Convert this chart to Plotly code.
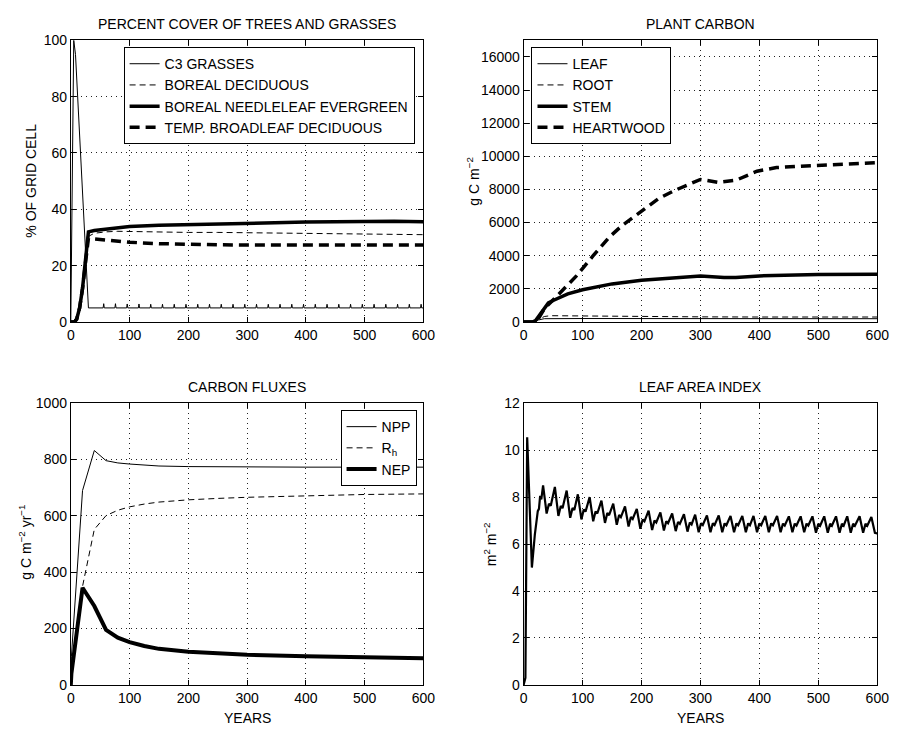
import plotly.graph_objects as go

W, H = 904, 734
FONT = "Liberation Sans, Arial, Helvetica, sans-serif"

# ---------------- Percent cover of trees and grasses ----------------
GRASS_YEARS = [0, 5, 8, 30,
               55, 56, 57, 75, 76, 77, 95, 96, 97, 115, 116, 117,
               135, 136, 137, 155, 156, 157, 175, 176, 177, 195, 196, 197,
               215, 216, 217, 235, 236, 237, 255, 256, 257, 275, 276, 277,
               295, 296, 297, 315, 316, 317, 335, 336, 337, 355, 356, 357,
               375, 376, 377, 395, 396, 397, 415, 416, 417, 435, 436, 437,
               455, 456, 457, 475, 476, 477, 495, 496, 497, 515, 516, 517,
               535, 536, 537, 555, 556, 557, 575, 576, 577, 595, 596, 597, 600]
GRASS_PCT = [0, 100, 95, 5,
             5, 6.5, 5, 5, 6.5, 5, 5, 6.4, 5, 5, 6.4, 5,
             5, 6.3, 5, 5, 6.3, 5, 5, 6.3, 5, 5, 6.3, 5,
             5, 6.3, 5, 5, 6.3, 5, 5, 6.3, 5, 5, 6.3, 5,
             5, 6.3, 5, 5, 6.3, 5, 5, 6.3, 5, 5, 6.3, 5,
             5, 6.3, 5, 5, 6.3, 5, 5, 6.3, 5, 5, 6.3, 5,
             5, 6.3, 5, 5, 6.3, 5, 5, 6.3, 5, 5, 6.3, 5,
             5, 6.3, 5, 5, 6.3, 5, 5, 6.3, 5, 5, 6.3, 5, 5]

TREE_YEARS = [0, 6, 10, 15, 20, 25, 30, 40, 60, 80, 100, 150, 200, 250,
              300, 350, 400, 450, 500, 550, 600]
BOREAL_DECID = [0, 0, 1, 5, 12, 21, 30.4, 31.5, 32.0, 32.2, 32.1, 32.0, 31.8,
                31.8, 31.7, 31.6, 31.5, 31.3, 31.2, 31.1, 31.0]
BOREAL_NEEDLE = [0, 0, 1, 5, 12, 21, 32.0, 32.5, 33.0, 33.4, 33.9, 34.3, 34.6,
                 34.8, 35.0, 35.2, 35.5, 35.6, 35.8, 35.8, 35.6]
TEMP_BROADLEAF = [0, 0, 1, 5, 12, 21, 29.8, 29.5, 29.0, 28.6, 28.3, 27.8, 27.5,
                  27.4, 27.3, 27.3, 27.3, 27.3, 27.3, 27.3, 27.3]

# ---------------- Plant carbon ----------------
LEAF_YEARS = [0, 18, 25, 35, 100, 300, 600]
LEAF_C = [0, 0, 120, 200, 210, 200, 200]
ROOT_YEARS = [0, 18, 25, 35, 45, 100, 200, 300, 400, 600]
ROOT_C = [0, 0, 150, 330, 380, 360, 330, 310, 300, 300]
STEM_YEARS = [0, 15, 20, 30, 42, 50, 60, 75, 100, 150, 200, 250, 300, 340,
              360, 400, 500, 600]
STEM_C = [0, 0, 80, 600, 1150, 1300, 1480, 1700, 1950, 2300, 2520, 2650, 2780,
          2680, 2680, 2780, 2860, 2880]
HEART_YEARS = [0, 18, 25, 35, 52, 68, 90, 118, 146, 168, 201, 229, 257, 280,
               300, 330, 360, 396, 429, 479, 534, 600]
HEART_C = [0, 0, 200, 800, 1400, 2000, 2800, 4000, 5150, 5850, 6750, 7450,
           7950, 8300, 8600, 8430, 8550, 9100, 9320, 9420, 9520, 9620]

# ---------------- Carbon fluxes ----------------
FLUX_YEARS = [0, 1, 20, 40, 60, 80, 100, 125, 150, 200, 250, 300, 400, 500, 600]
NPP = [0, 100, 690, 832, 796, 788, 784, 780, 777, 775, 774, 773, 773, 773, 773]
RH = [0, 60, 350, 552, 601, 620, 632, 642, 649, 657, 662, 666, 671, 676, 678]
NEP = [0, 40, 345, 280, 195, 168, 152, 138, 128, 118, 112, 107, 102, 97, 95]

# ---------------- Leaf area index ----------------
LAI = [
    (0, 0.0), (3, 0.3), (6, 10.55), (14, 5.0), (19, 6.4), (24, 7.4),
    (26, 7.5), (28, 8.05), (30, 7.9), (33, 8.5),
    (39, 7.30), (43, 7.72), (46, 7.63), (53, 8.43),
    (59, 7.20), (63, 7.62), (66, 7.53), (73, 8.28),
    (79, 7.12), (83, 7.54), (86, 7.45), (92, 8.12),
    (98, 7.05), (102, 7.47), (105, 7.38), (112, 8.00),
    (118, 6.97), (122, 7.39), (125, 7.30), (132, 7.85),
    (138, 6.90), (142, 7.32), (145, 7.23), (152, 7.72),
    (158, 6.82), (162, 7.24), (165, 7.15), (172, 7.60),
    (178, 6.75), (182, 7.15), (185, 7.07), (192, 7.50),
    (198, 6.65), (202, 7.05), (205, 6.97), (212, 7.42),
    (218, 6.60), (222, 7.00), (225, 6.92), (232, 7.35),
    (238, 6.58), (242, 6.97), (245, 6.89), (252, 7.30),
    (258, 6.55), (262, 6.94), (265, 6.86), (272, 7.27),
    (278, 6.53), (282, 6.92), (285, 6.84), (291, 7.25),
    (297, 6.50), (301, 6.89), (304, 6.81), (311, 7.22),
    (317, 6.50), (321, 6.89), (324, 6.81), (331, 7.22),
    (337, 6.50), (341, 6.88), (344, 6.80), (351, 7.20),
    (357, 6.50), (361, 6.88), (364, 6.80), (371, 7.20),
    (377, 6.50), (381, 6.88), (384, 6.80), (390, 7.20),
    (396, 6.50), (400, 6.88), (403, 6.80), (410, 7.20),
    (416, 6.50), (420, 6.88), (423, 6.80), (430, 7.20),
    (436, 6.50), (440, 6.87), (443, 6.79), (450, 7.18),
    (456, 6.50), (460, 6.87), (463, 6.79), (470, 7.18),
    (476, 6.50), (480, 6.87), (483, 6.79), (490, 7.18),
    (496, 6.48), (500, 6.86), (503, 6.78), (510, 7.18),
    (516, 6.48), (520, 6.86), (523, 6.78), (530, 7.18),
    (536, 6.48), (540, 6.86), (543, 6.78), (549, 7.18),
    (555, 6.48), (559, 6.86), (562, 6.78), (570, 7.18),
    (576, 6.48), (580, 6.86), (583, 6.78), (590, 7.15),
    (596, 6.48), (600, 6.45),
]
LAI_YEARS = [p[0] for p in LAI]
LAI_VALUES = [p[1] for p in LAI]

X_TICKS = [0, 100, 200, 300, 400, 500, 600]

THIN_DASH = "6px,4px"
THICK_DASH = "10px,6px"

fig = go.Figure()


def add_line(x, y, name, width, dash, xa, ya, legend=None):
    fig.add_trace(go.Scatter(
        x=x, y=y, name=name, mode="lines",
        line=dict(color="black", width=width, dash=dash),
        xaxis=xa, yaxis=ya,
        showlegend=legend is not None,
        legend=legend if legend else "legend",
    ))


# panel 1
add_line(GRASS_YEARS, GRASS_PCT, "C3 GRASSES", 1, "solid", "x", "y", "legend")
add_line(TREE_YEARS, BOREAL_DECID, "BOREAL DECIDUOUS", 1, THIN_DASH, "x", "y", "legend")
add_line(TREE_YEARS, BOREAL_NEEDLE, "BOREAL NEEDLELEAF EVERGREEN", 3.5, "solid", "x", "y", "legend")
add_line(TREE_YEARS, TEMP_BROADLEAF, "TEMP. BROADLEAF DECIDUOUS", 3.5, THICK_DASH, "x", "y", "legend")

# panel 2
add_line(LEAF_YEARS, LEAF_C, "LEAF", 1, "solid", "x2", "y2", "legend2")
add_line(ROOT_YEARS, ROOT_C, "ROOT", 1, THIN_DASH, "x2", "y2", "legend2")
add_line(STEM_YEARS, STEM_C, "STEM", 3.5, "solid", "x2", "y2", "legend2")
add_line(HEART_YEARS, HEART_C, "HEARTWOOD", 3.5, THICK_DASH, "x2", "y2", "legend2")

# panel 3
add_line(FLUX_YEARS, NPP, "NPP", 1, "solid", "x3", "y3", "legend3")
add_line(FLUX_YEARS, RH, "R<sub>h</sub>", 1, THIN_DASH, "x3", "y3", "legend3")
add_line(FLUX_YEARS, NEP, "NEP", 4, "solid", "x3", "y3", "legend3")

# panel 4
add_line(LAI_YEARS, LAI_VALUES, "LAI", 2.2, "solid", "x4", "y4", None)


def px_x(p):
    return p / W


def px_y(p):
    return 1 - p / H


LEFT = [68, 529]
RIGHT = [427, 889]
TOP = [33, 404]
BOTTOM = [321, 692]

axis_style = dict(
    showline=True, linecolor="black", linewidth=1, mirror="ticks",
    ticks="inside", ticklen=5, tickcolor="black", tickwidth=1,
    showgrid=True, gridcolor="#222", gridwidth=1, griddash="1px,4px",
    zeroline=False, tickfont=dict(size=14, color="black", family=FONT),
    fixedrange=True,
)

panels = [
    ("xaxis", "yaxis", "y", "x", 0, 0, [0, 100], 20, None),
    ("xaxis2", "yaxis2", "y2", "x2", 1, 0, [0, 17000], 2000, "d"),
    ("xaxis3", "yaxis3", "y3", "x3", 0, 1, [0, 1000], 200, None),
    ("xaxis4", "yaxis4", "y4", "x4", 1, 1, [0, 12], 2, None),
]
layout = {}
for xa, ya, yref, xref, col, row, yrange, dtick, fmt in panels:
    layout[xa] = dict(axis_style, domain=[px_x(LEFT[col]), px_x(RIGHT[col])],
                      range=[0, 600], tickvals=X_TICKS, anchor=yref)
    ydict = dict(axis_style, domain=[px_y(BOTTOM[row]), px_y(TOP[row])],
                 range=yrange, dtick=dtick, tick0=0, anchor=xref)
    if fmt:
        ydict["tickformat"] = fmt
    layout[ya] = ydict

legend_style = dict(
    bordercolor="black", borderwidth=1, bgcolor="white",
    font=dict(size=14, color="black", family=FONT),
    itemwidth=30, tracegroupgap=0, yanchor="top",
)

fig.update_layout(
    width=W, height=H,
    margin=dict(l=0, r=0, t=0, b=0),
    paper_bgcolor="white", plot_bgcolor="white",
    font=dict(family=FONT, color="black", size=14),
    legend=dict(legend_style, x=px_x(418), xanchor="right", y=px_y(40)),
    legend2=dict(legend_style, x=px_x(537), xanchor="left", y=px_y(40)),
    legend3=dict(legend_style, x=px_x(420), xanchor="right", y=px_y(411)),
    **layout,
)

annotations = []
titles = [
    ("PERCENT COVER OF TREES AND GRASSES", 0, 0),
    ("PLANT CARBON", 1, 0),
    ("CARBON FLUXES", 0, 1),
    ("LEAF AREA INDEX", 1, 1),
]
for text, col, row in titles:
    annotations.append(dict(
        text=text, x=px_x((LEFT[col] + RIGHT[col]) / 2), y=px_y(TOP[row] - 17),
        xref="paper", yref="paper", showarrow=False,
        xanchor="center", yanchor="middle", font=dict(size=14, color="black"),
    ))

ytitles = [
    ("% OF GRID CELL", 28, 177),
    ("g C m<sup>\u22122</sup>", 478, 177),
    ("g C m<sup>\u22122</sup> yr<sup>\u22121</sup>", 22, 546),
    ("m<sup>2</sup> m<sup>\u22122</sup>", 495, 548),
]
for text, xp, yp in ytitles:
    annotations.append(dict(
        text=text, x=px_x(xp), y=px_y(yp), xref="paper", yref="paper",
        showarrow=False, textangle=-90, xanchor="center", yanchor="middle",
        font=dict(size=14, color="black"),
    ))

for col in range(2):
    annotations.append(dict(
        text="YEARS", x=px_x((LEFT[col] + RIGHT[col]) / 2), y=px_y(726),
        xref="paper", yref="paper", showarrow=False,
        xanchor="center", yanchor="middle", font=dict(size=14, color="black"),
    ))

fig.update_layout(annotations=annotations)

fig.write_html("out.html")
